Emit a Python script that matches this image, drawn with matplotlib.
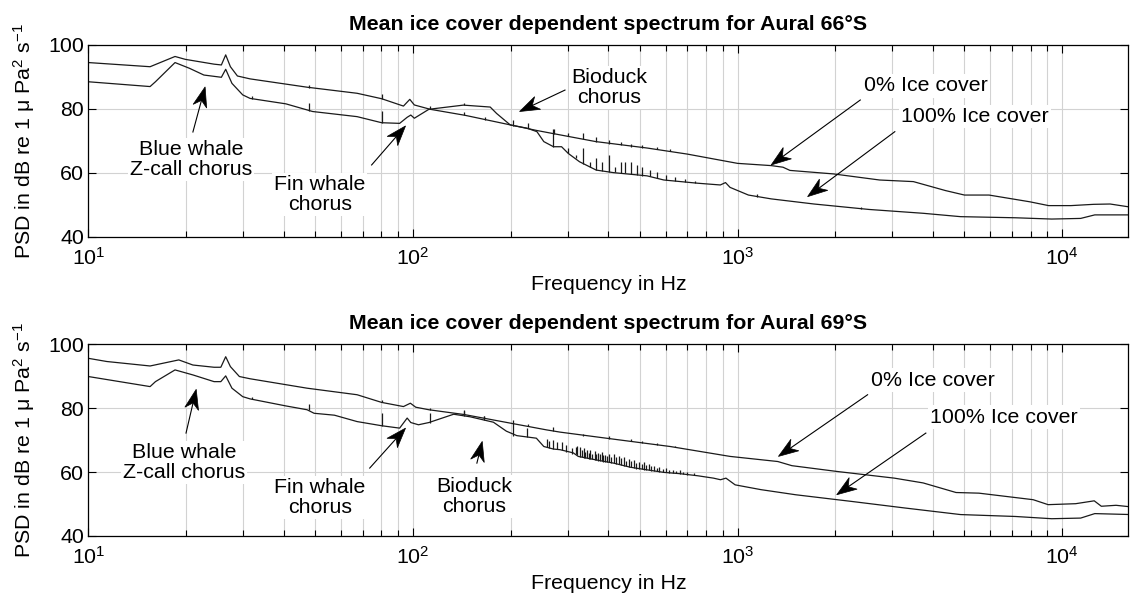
import numpy as np
import matplotlib
matplotlib.use('Agg')
import matplotlib.pyplot as plt
from matplotlib.patches import Polygon
from matplotlib.transforms import IdentityTransform
from matplotlib.ticker import LogLocator, FixedLocator, NullFormatter

plt.rcParams['font.family'] = ['Liberation Sans', 'DejaVu Sans']
plt.rcParams['mathtext.fontset'] = 'custom'
plt.rcParams['mathtext.rm'] = 'Liberation Sans'
plt.rcParams['mathtext.it'] = 'Liberation Sans:italic'
plt.rcParams['mathtext.bf'] = 'Liberation Sans:bold'

# ---------------- Aural 66°S ----------------
f66_open = [10, 15.5, 18.5, 19.9, 24.4, 25.7, 26.5, 27.4, 28.8, 31.5, 47.2, 67.3, 80.1,
            93.5, 97.8, 101, 113, 145, 200, 240, 284, 366, 526, 700, 1000, 1270, 1380,
            1450, 1975, 2740, 3480, 4370, 5000, 5950, 7940, 9080, 10640, 12500, 14050, 16300]
v66_open = [94.5, 93.2, 96.4, 95.5, 94.0, 93.75, 96.9, 93.2, 90.3, 89.4, 86.8, 84.9, 83.2,
            80.9, 83.0, 81.25, 79.9, 78.0, 75.0, 73.3, 71.9, 69.8, 67.8, 65.9, 63.0, 62.3, 61.8,
            60.8, 59.7, 57.8, 57.3, 54.5, 53.1, 53.1, 51.0, 49.8, 49.8, 50.2, 50.3, 49.3]

f66_ice = [10, 15.5, 16.1, 18.5, 20.5, 22.7, 25.7, 26.5, 27.7, 29.9, 31.5, 40.6, 47.2, 49.1,
           67.3, 80.1, 91, 96, 98.5, 101, 112, 143, 173, 181, 199.5, 224.6, 241, 253, 271,
           287, 301, 326, 367, 415, 526, 593, 753, 885, 918, 948, 1080, 1270, 1720, 2540,
           3730, 4860, 7180, 9280, 11400, 12600, 16300]
v66_ice = [88.5, 87.0, 88.5, 94.5, 92.7, 90.6, 89.9, 92.4, 88.0, 84.4, 83.3, 81.6, 79.7, 79.2,
           77.6, 75.7, 75.5, 77.4, 78.1, 77.1, 79.9, 81.2, 80.6, 78.6, 75.0, 74.0, 72.9, 69.8, 68.2,
           68.2, 66.1, 63.5, 60.9, 60.1, 59.1, 57.8, 56.8, 56.25, 57.0, 55.5, 53.1, 51.9, 50.3, 48.6,
           47.4, 46.35, 46.0, 45.6, 45.8, 46.9, 46.9]

# narrow tonal peaks: frequency, floor, top
spk66_open = [(48, 86.6, 87.4), (80.1, 83.2, 84.6), (144, 78.0, 79.0), (167, 76.6, 77.5),
              (272, 72.2, 73.6), (301, 71.4, 72.4), (335, 70.6, 72.5), (367, 69.8, 71.2),
              (401, 69.1, 70.4), (437, 68.6, 69.6), (468, 68.2, 69.2), (507, 67.9, 68.8),
              (563, 67.4, 68.2), (620, 66.8, 67.5)]
spk66_ice = [(32, 83.2, 84.0), (48, 79.5, 81.8), (80.1, 75.7, 79.4), (113, 79.9, 81.0),
             (144, 81.2, 82.0), (204, 74.8, 76.6), (226, 74.0, 75.5), (271, 68.2, 73.6),
             (301, 66.1, 67.7), (317, 64.6, 65.6), (335, 62.8, 67.9), (351, 61.8, 63.5),
             (367, 60.9, 64.6), (381, 60.7, 63.5), (401, 60.4, 65.6), (418, 60.2, 61.8),
             (437, 60.0, 63.5), (449, 59.9, 63.5), (468, 59.6, 63.5), (489, 59.4, 62.5),
             (507, 59.2, 62.0), (536, 59.0, 60.9), (563, 58.5, 60.4), (600, 57.8, 59.4),
             (640, 57.6, 58.6), (690, 57.2, 58.0), (740, 56.9, 57.6), (1150, 52.6, 53.3),
             (2400, 48.8, 49.4)]

# ---------------- Aural 69°S ----------------
f69_open = [10, 11.4, 15.5, 19.0, 21.0, 24.4, 25.6, 26.5, 27.4, 29.2, 31.5, 47.2, 67.3, 80.1,
            93.5, 98.2, 102, 112, 144, 177, 258, 284, 415, 620, 948, 1330, 1470, 2020, 3040,
            3730, 4710, 5540, 8140, 9050, 11000, 12550, 13200, 14650, 16300]
v69_open = [95.6, 94.6, 93.2, 95.1, 93.5, 92.8, 92.8, 96.1, 93.0, 89.9, 89.2, 86.25, 84.2, 81.8,
            80.5, 81.55, 80.3, 79.5, 78.0, 76.3, 73.2, 72.5, 70.3, 68.0, 64.9, 63.3, 62.0, 60.2, 58.1,
            56.6, 53.6, 53.4, 51.35, 49.8, 50.1, 51.0, 49.3, 49.6, 49.1]

f69_ice = [10, 15.5, 16.1, 18.5, 21.0, 24.4, 25.6, 26.5, 27.7, 29.9, 31.5, 40.6, 47.2, 49.6,
           57.3, 67.3, 80.1, 91, 96, 98.5, 104, 112, 133.5, 150, 177, 194, 209, 240, 253, 271,
           284, 312, 323, 367, 415, 468, 526, 593, 664, 753, 843, 886, 921, 983, 1180, 1510,
           2250, 3280, 4860, 7180, 9280, 11400, 12600, 16300]
v69_ice = [89.9, 86.75, 88.3, 91.97, 90.4, 88.3, 88.3, 90.1, 86.25, 83.6, 82.9, 80.7, 79.5, 78.4,
           77.8, 75.8, 74.5, 73.75, 76.9, 75.5, 74.8, 75.5, 78.1, 77.3, 75.6, 72.8, 71.4, 70.6, 68.0,
           67.2, 67.0, 66.0, 64.9, 63.8, 62.8, 61.5, 60.7, 59.9, 59.5, 58.85, 58.1, 57.6, 58.1, 56.0,
           54.5, 52.9, 50.8, 48.75, 46.7, 46.1, 45.4, 45.6, 47.0, 46.7]

spk69_open = [(80.1, 81.8, 82.6), (113, 79.4, 80.2), (144, 78.0, 79.4), (165, 76.8, 77.6),
              (204, 75.0, 76.2), (226, 74.3, 75.0), (271, 73.0, 74.0), (335, 71.3, 72.0),
              (401, 70.4, 71.3), (468, 69.6, 70.3), (507, 69.2, 69.8), (563, 68.6, 69.2),
              (640, 67.7, 68.3)]
spk69_ice = [(32, 82.9, 83.6), (48, 79.4, 81.25), (80.1, 74.5, 78.4), (113, 75.4, 78.4),
             (144, 77.6, 79.0), (165, 76.4, 77.5), (204, 71.3, 75.3), (225, 71.0, 73.75),
             (258, 67.8, 70.5), (263, 67.6, 69.8), (271, 67.2, 70.1), (277, 67.1, 69.5),
             (287, 66.9, 69.3), (297, 66.4, 68.5), (310, 65.8, 67.5), (317, 65.5, 68.0),
             (321, 65.2, 68.3), (326, 64.8, 67.8), (331, 64.6, 66.8), (336, 64.5, 67.5),
             (340, 64.4, 66.3), (344, 64.3, 67.0), (348, 64.2, 66.0), (352, 64.1, 66.8),
             (357, 64.0, 65.8), (363, 63.9, 66.5), (367, 63.8, 65.5), (372, 63.6, 66.0),
             (377, 63.5, 65.6), (381, 63.4, 66.2), (386, 63.3, 65.2), (391, 63.2, 65.4),
             (396, 63.1, 65.0), (401, 63.0, 65.5), (408, 62.9, 64.8), (415, 62.8, 65.8),
             (423, 62.6, 64.6), (431, 62.4, 65.0), (438, 62.2, 64.3), (446, 62.0, 64.8),
             (454, 61.8, 63.6), (462, 61.6, 64.0), (470, 61.5, 63.4), (479, 61.3, 63.9),
             (488, 61.1, 62.9), (497, 61.0, 63.3), (506, 60.9, 62.6), (515, 60.8, 63.0),
             (524, 60.7, 62.2), (533, 60.6, 62.5), (542, 60.4, 61.8), (552, 60.3, 62.0),
             (563, 60.2, 61.4), (574, 60.1, 61.6), (588, 60.0, 61.0), (602, 59.9, 61.2),
             (616, 59.8, 60.7), (631, 59.7, 60.8), (648, 59.6, 60.3), (664, 59.5, 60.5),
             (680, 59.3, 60.0), (697, 59.2, 60.1), (733, 59.0, 59.7)]

# labels: text, text position, arrow tail, arrow head (Hz, dB)
notes66 = [("Blue whale\nZ-call chorus", (20.7, 64.1), (21.0, 72.8), (22.9, 86.9)),
           ("Fin whale\nchorus", (51.6, 53.2), (74.6, 62.5), (94.9, 74.7)),
           ("Bioduck\nchorus", (402, 86.7), (294, 85.9), (213, 79.2)),
           ("0% Ice cover", (3802, 87.2), (2388, 82.8), (1269, 62.5)),
           ("100% Ice cover", (5383, 77.6), (3051, 72.9), (1643, 52.6))]
notes69 = [("Blue whale\nZ-call chorus", (19.7, 63.1), (20.0, 72.2), (21.5, 85.9)),
           ("Fin whale\nchorus", (51.6, 52.1), (73.6, 61.25), (94.9, 73.75)),
           ("Bioduck\nchorus", (154.7, 52.4), (157.4, 62.8), (163.5, 69.6)),
           ("0% Ice cover", (4000, 88.8), (2515, 84.2), (1336, 64.9)),
           ("100% Ice cover", (6617, 77.2), (3802, 72.2), (2020, 52.9))]

FS = 15.4
LC = '#1a1a1a'


def arrow(ax, tail, head):
    # matlab-like arrow with a notched head, built in pixel space
    p0 = ax.transData.transform(tail)
    p1 = ax.transData.transform(head)
    u = (p1 - p0) / np.hypot(*(p1 - p0))
    n = np.array([-u[1], u[0]])
    L, W, notch = 20.0, 7.0, 6.0
    back = p1 - (L - notch) * u
    ax.plot([p0[0], back[0]], [p0[1], back[1]], color='black', lw=0.8,
            transform=IdentityTransform(), zorder=4)
    head_pts = [p1, p1 - L * u + W * n, back, p1 - L * u - W * n]
    ax.add_patch(Polygon(head_pts, closed=True, facecolor='black', edgecolor='black',
                         lw=0.5, transform=IdentityTransform(), zorder=4))


def draw_panel(ax, title, fo, vo, so, fi, vi, si, notes):
    ax.plot(fo, vo, color=LC, lw=0.9, zorder=2)
    ax.plot(fi, vi, color=LC, lw=0.9, zorder=2)
    for spikes in (so, si):
        sf = [s[0] for s in spikes]
        sb = [s[1] for s in spikes]
        st = [s[2] for s in spikes]
        ax.vlines(sf, sb, st, color=LC, lw=0.9, zorder=2)

    ax.set_xscale('log')
    ax.set_xlim(10, 16000)
    ax.set_ylim(40, 100)
    ax.yaxis.set_major_locator(FixedLocator([40, 60, 80, 100]))
    ax.xaxis.set_major_locator(LogLocator(base=10, numticks=10))
    ax.xaxis.set_minor_locator(LogLocator(base=10, subs=range(2, 10), numticks=20))
    ax.xaxis.set_minor_formatter(NullFormatter())
    ax.grid(True, which='both', axis='x', color='#d2d2d2', lw=0.8)
    ax.grid(True, which='major', axis='y', color='#d2d2d2', lw=0.8)
    ax.set_axisbelow(True)
    ax.tick_params(which='both', direction='in', top=True, right=True, labelsize=FS)
    ax.tick_params(which='major', length=5.5, width=0.8)
    ax.tick_params(which='minor', length=4, width=0.8)
    ax.tick_params(axis='x', pad=7)
    ax.tick_params(axis='y', pad=3)
    for sp in ax.spines.values():
        sp.set_linewidth(0.9)

    ax.set_title(title, fontsize=FS, fontweight='bold', pad=11)
    ax.set_xlabel('Frequency in Hz', fontsize=FS)
    ax.set_ylabel('PSD in dB re 1 \u03bc Pa$^{2}$ s$^{-1}$', fontsize=FS)
    ax.xaxis.set_label_coords(0.5, -0.2)
    ax.yaxis.set_label_coords(-0.049, 0.5)

    for txt, pos, tail, head in notes:
        arrow(ax, tail, head)
        ax.text(pos[0], pos[1], txt, ha='center', va='center', fontsize=FS,
                linespacing=1.05, zorder=5,
                bbox=dict(facecolor='white', edgecolor='none', pad=1.5))


fig = plt.figure(figsize=(11.3, 6.01), dpi=100)
ax1 = fig.add_axes([0.07814, 0.6057, 0.9205, 0.3195])
ax2 = fig.add_axes([0.07814, 0.1082, 0.9205, 0.3190])

draw_panel(ax1, 'Mean ice cover dependent spectrum for Aural 66\u00b0S',
           f66_open, v66_open, spk66_open, f66_ice, v66_ice, spk66_ice, notes66)
draw_panel(ax2, 'Mean ice cover dependent spectrum for Aural 69\u00b0S',
           f69_open, v69_open, spk69_open, f69_ice, v69_ice, spk69_ice, notes69)

fig.savefig('out.png', dpi=100)
